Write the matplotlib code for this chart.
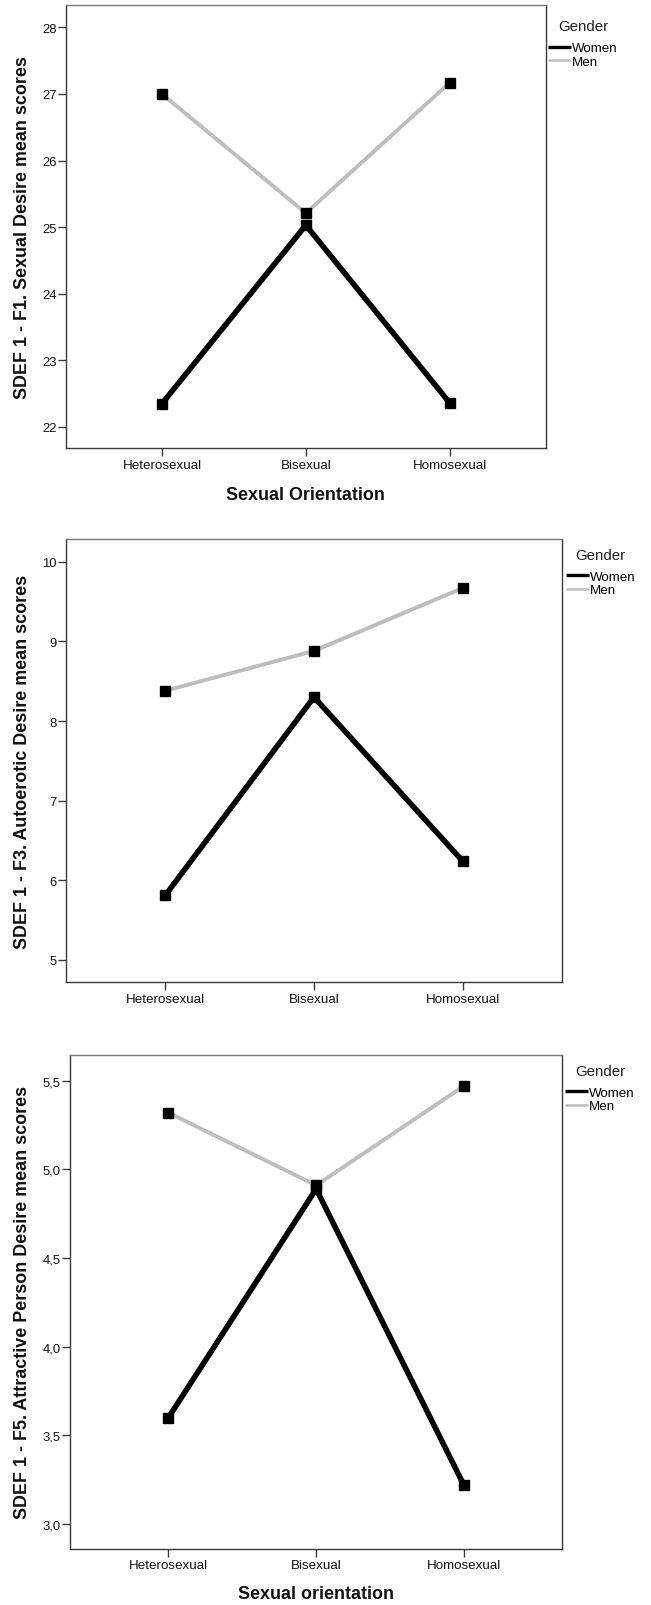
import matplotlib
matplotlib.use('Agg')
import matplotlib.pyplot as plt
from matplotlib.lines import Line2D

plt.rcParams['font.family'] = ['Liberation Sans', 'DejaVu Sans']

# ---------------- data ----------------
orientations = ['Heterosexual', 'Bisexual', 'Homosexual']
genders = ['Women', 'Men']

f1_women = [22.35, 25.03, 22.36]
f1_men = [27.00, 25.21, 27.17]
f1_yticks = [22, 23, 24, 25, 26, 27, 28]
f1_yticklabels = ['22', '23', '24', '25', '26', '27', '28']
f1_ylabel = 'SDEF 1 - F1. Sexual Desire mean scores'
f1_xlabel = 'Sexual Orientation'

f3_women = [5.81, 8.30, 6.24]
f3_men = [8.38, 8.88, 9.67]
f3_yticks = [5, 6, 7, 8, 9, 10]
f3_yticklabels = ['5', '6', '7', '8', '9', '10']
f3_ylabel = 'SDEF 1 - F3. Autoerotic Desire mean scores'
f3_xlabel = None

f5_women = [3.60, 4.89, 3.22]
f5_men = [5.32, 4.91, 5.47]
f5_yticks = [3.0, 3.5, 4.0, 4.5, 5.0, 5.5]
f5_yticklabels = ['3,0', '3,5', '4,0', '4,5', '5,0', '5,5']
f5_ylabel = 'SDEF 1 - F5. Attractive Person Desire mean scores'
f5_xlabel = 'Sexual orientation'

legend_title = 'Gender'

# ---------------- styling / layout ----------------
W, H = 651, 1606
WOMEN_C = '#000000'
MEN_C = '#bdbdbd'
SPINE_C = '#3a3a3a'

fig = plt.figure(figsize=(W / 100, H / 100), dpi=100)

panels = [
    dict(women=f1_women, men=f1_men, yticks=f1_yticks, yticklabels=f1_yticklabels,
         ylabel=f1_ylabel, xlabel=f1_xlabel,
         box=(66, 5.7, 545.7, 449.3), ylim=(21.68, 28.34),
         gender_xy=(558, 26.7), leg_xy=(548, 43.0), xlabel_y=495.5),
    dict(women=f3_women, men=f3_men, yticks=f3_yticks, yticklabels=f3_yticklabels,
         ylabel=f3_ylabel, xlabel=f3_xlabel,
         box=(66, 540, 562, 983.3), ylim=(4.72, 10.285),
         gender_xy=(575, 556), leg_xy=(566, 571.3), xlabel_y=None),
    dict(women=f5_women, men=f5_men, yticks=f5_yticks, yticklabels=f5_yticklabels,
         ylabel=f5_ylabel, xlabel=f5_xlabel,
         box=(70, 1055.7, 562.3, 1550), ylim=(2.859, 5.647),
         gender_xy=(575, 1072), leg_xy=(565, 1087.3), xlabel_y=1595),
]

xpos = list(range(len(orientations)))

for p in panels:
    l, t, r, b = p['box']
    ax = fig.add_axes([l / W, 1 - b / H, (r - l) / W, (b - t) / H])
    ax.plot(xpos, p['men'], color=MEN_C, lw=2.8, solid_capstyle='butt', zorder=2)
    ax.plot(xpos, p['women'], color=WOMEN_C, lw=4.0, solid_capstyle='butt', zorder=3)
    ax.plot(xpos, p['men'], ls='none', marker='s', ms=7, mfc='black', mec='black', zorder=4)
    ax.plot(xpos, p['women'], ls='none', marker='s', ms=7, mfc='black', mec='black', zorder=5)

    ax.set_xlim(-2 / 3, 2 + 2 / 3)
    ax.set_ylim(*p['ylim'])
    ax.set_xticks(xpos)
    ax.set_xticklabels(orientations)
    ax.set_yticks(p['yticks'])
    ax.set_yticklabels(p['yticklabels'])
    ax.tick_params(axis='both', direction='out', length=5.5, width=1.0, color=SPINE_C,
                   labelcolor='#111111')
    ax.tick_params(axis='y', labelsize=9.4, pad=1.2)
    ax.tick_params(axis='x', labelsize=9.6, pad=2.0)
    for side, sp in ax.spines.items():
        sp.set_linewidth(1.0)
        sp.set_color('#7a7a7a' if side == 'top' else SPINE_C)

    cy = 1 - (t + b) / 2 / H
    fig.text(23 / W, cy, p['ylabel'], rotation=90, ha='center', va='center',
             fontsize=12.9, fontweight='bold', color='#111111')
    if p['xlabel']:
        fig.text((l + r) / 2 / W, 1 - p['xlabel_y'] / H, p['xlabel'], ha='center', va='center',
                 fontsize=12.9, fontweight='bold', color='#111111')

    gx, gy = p['gender_xy']
    fig.text(gx / W, 1 - gy / H, legend_title, ha='left', va='center', fontsize=10.8,
             color='#222222')
    handles = [Line2D([], [], color=WOMEN_C, lw=2.4, solid_capstyle='butt'),
               Line2D([], [], color=MEN_C, lw=1.8, solid_capstyle='butt')]
    lx, ly = p['leg_xy']
    ax.legend(handles, genders, loc='upper left', bbox_to_anchor=(lx / W, 1 - ly / H),
              bbox_transform=fig.transFigure, frameon=False, borderpad=0, borderaxespad=0,
              handlelength=1.75, handletextpad=0.05, labelspacing=0.1, fontsize=9.6)

fig.savefig('out.png', dpi=100)
